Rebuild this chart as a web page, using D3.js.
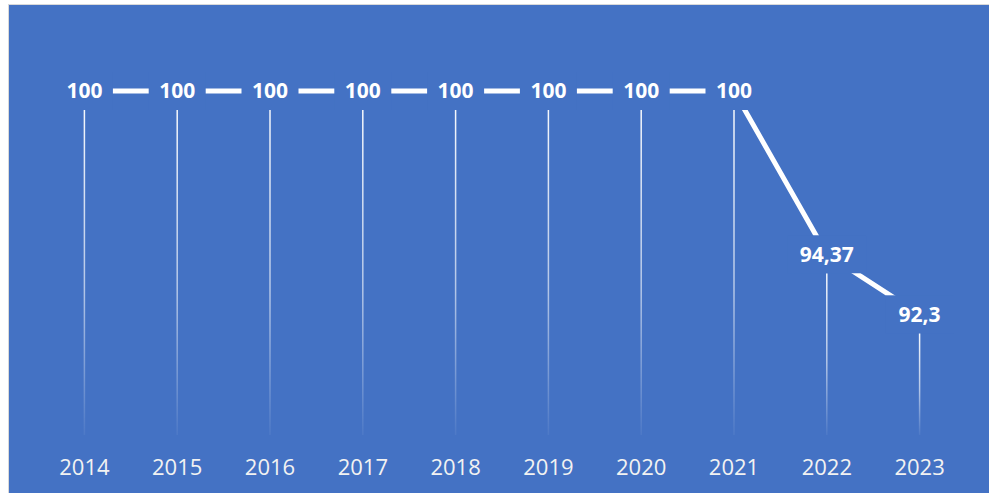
<!DOCTYPE html>
<html><head><meta charset="utf-8">
<script src="https://cdn.jsdelivr.net/npm/d3@7"></script>
<style>body{margin:0;background:#fff}svg{display:block}</style>
</head><body>
<svg id="c" width="989" height="493"></svg>
<script>
const years = ["2014","2015","2016","2017","2018","2019","2020","2021","2022","2023"];
const values = [100,100,100,100,100,100,100,100,94.37,92.3];
const labels = ["100","100","100","100","100","100","100","100","94,37","92,3"];

const svg = d3.select("#c");
const W = 989, H = 493;
const bg = "#4472C4";
svg.append("rect").attr("x",8.5).attr("y",4.5).attr("width",W).attr("height",H)
  .attr("fill",bg).attr("stroke","#d9d9d9").attr("stroke-width",1);

const x = d3.scaleBand().domain(years).range([38,966]);
const y = d3.scaleLinear().domain([88,102]).range([439,33]);
const cx = d => x(d) + x.bandwidth()/2;

const defs = svg.append("defs");
const grad = defs.append("linearGradient").attr("id","fade")
  .attr("x1",0).attr("y1",0).attr("x2",0).attr("y2",1);
grad.append("stop").attr("offset","0%").attr("stop-color","#fff").attr("stop-opacity",0.95);
grad.append("stop").attr("offset","55%").attr("stop-color","#fff").attr("stop-opacity",0.6);
grad.append("stop").attr("offset","100%").attr("stop-color","#fff").attr("stop-opacity",0.05);

// drop lines
const boxH = 38;
svg.append("g").selectAll("rect").data(years).join("rect")
  .attr("x",(d)=>cx(d)-0.75)
  .attr("y",(d,i)=>y(values[i]) + boxH/2)
  .attr("width",1.5)
  .attr("height",(d,i)=>y(88) - 4 - (y(values[i]) + boxH/2))
  .attr("fill","url(#fade)");

// line
const line = d3.line().x((d,i)=>cx(years[i])).y(d=>y(d));
svg.append("path").datum(values).attr("d",line)
  .attr("fill","none").attr("stroke","#fff").attr("stroke-width",5);

// label boxes (obscure line)
const lg = svg.append("g");
lg.selectAll("rect").data(years).join("rect")
  .attr("x",(d,i)=>cx(d) - (labels[i].length*11 + 8)/2 - 8)
  .attr("y",(d,i)=>y(values[i]) - boxH/2)
  .attr("width",(d,i)=>labels[i].length*11 + 8 + 16)
  .attr("height",boxH)
  .attr("fill",bg);
lg.selectAll("text").data(years).join("text")
  .attr("x",d=>cx(d))
  .attr("y",(d,i)=>y(values[i]))
  .attr("dy","0.35em")
  .attr("text-anchor","middle")
  .attr("font-family","Open Sans, sans-serif")
  .attr("font-weight","bold")
  .attr("font-size",21)
  .attr("fill","#fff")
  .text((d,i)=>labels[i]);

// x axis labels
const ax = svg.append("g").attr("transform","translate(0,475)")
  .call(d3.axisBottom(x).tickSize(0).tickPadding(0));
ax.select(".domain").remove();
ax.selectAll("text").attr("dy",0).attr("y",0)
  .attr("font-family","Open Sans, sans-serif").attr("font-size",22)
  .attr("fill","#f2f2f2");
</script>
</body></html>
